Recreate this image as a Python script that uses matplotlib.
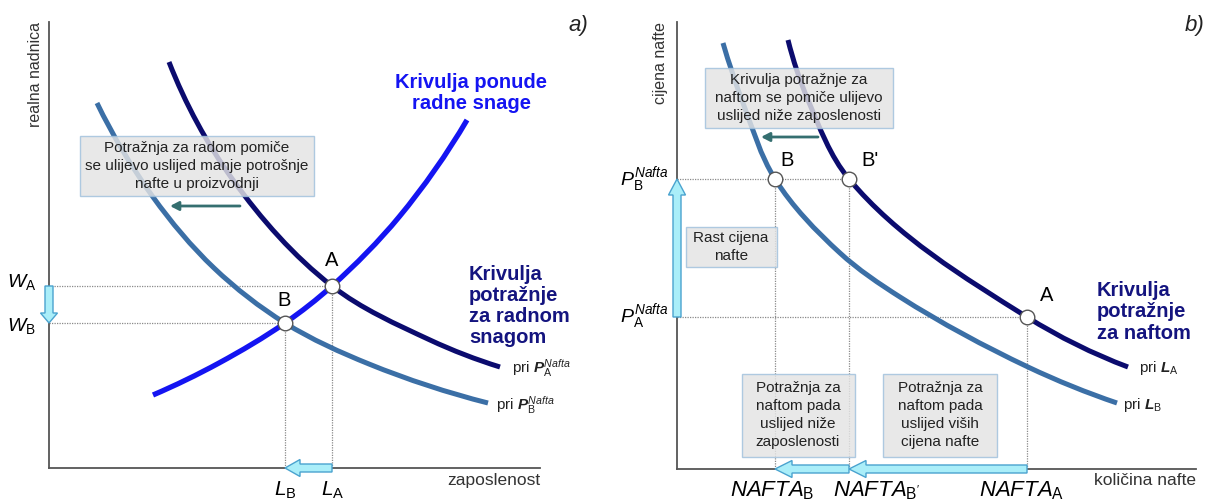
import numpy as np
import matplotlib
matplotlib.use("Agg")
import matplotlib.pyplot as plt
from matplotlib.path import Path
from matplotlib.patches import PathPatch, Rectangle, FancyArrow, FancyArrowPatch
from matplotlib.transforms import Affine2D

plt.rcParams['font.family'] = ['Liberation Sans', 'DejaVu Sans']
plt.rcParams['mathtext.fontset'] = 'custom'
plt.rcParams['mathtext.rm'] = 'Liberation Sans'
plt.rcParams['mathtext.it'] = 'Liberation Sans:italic'
plt.rcParams['mathtext.bf'] = 'Liberation Sans:bold:italic'

# ---------------- data: panel a) labour market ----------------
lab_demA_q = [120, 184, 283, 381, 451]
lab_demA_w = [406, 288, 182, 128, 101]
lab_demB_q = [48, 104, 165, 236, 320, 439]
lab_demB_w = [365, 271, 200, 145, 104, 65]
lab_sup_q = [104, 170, 236, 283, 350, 418]
lab_sup_w = [73, 105, 145, 182, 251, 348]
L_A, W_A = 283, 182
L_B, W_B = 236, 145

# ---------------- data: panel b) oil market ----------------
oil_demA_q = [111, 131, 172, 350, 451]
oil_demA_p = [429, 369, 290, 152, 102]
oil_demB_q = [46, 66, 98, 163, 223, 351, 440]
oil_demB_p = [426, 366, 290, 216, 172, 102, 66]
Q_B, Q_Bp, Q_A = 98, 172, 350
P_B, P_A = 290, 152

NAVY = '#0b0b6e'
STEEL = '#3b6fa6'
BLUE = '#1414f2'
TEAL = '#356f70'
CYAN_F = '#aaeef9'
CYAN_E = '#4aa3cf'
GRID = '#8a8a8a'
AX = '#555555'
BOX_F = '#e4e4e4'
BOX_E = '#9fc0dc'


def _unit(v):
    return v / np.hypot(*v)


def smooth_path(xs, ys):
    """Bezier path through the read points (tangents from neighbours, chord-length handles)."""
    P = np.column_stack([xs, ys]).astype(float)
    n = len(P)
    T = [None] * n
    for i in range(1, n - 1):
        T[i] = _unit(_unit(P[i + 1] - P[i]) + _unit(P[i] - P[i - 1]))
    T[0] = _unit(2 * _unit(P[1] - P[0]) - T[1])
    T[-1] = _unit(2 * _unit(P[-1] - P[-2]) - T[-2])
    verts = [P[0]]
    codes = [Path.MOVETO]
    for i in range(n - 1):
        L = np.hypot(*(P[i + 1] - P[i]))
        verts += [P[i] + T[i] * L / 3, P[i + 1] - T[i + 1] * L / 3, P[i + 1]]
        codes += [Path.CURVE4] * 3
    return Path(verts, codes)


def curve(ax, xs, ys, color, lw):
    ax.add_patch(PathPatch(smooth_path(xs, ys), fill=False, ec=color, lw=lw,
                           capstyle='butt', zorder=3))


W, H = 1212, 503
fig = plt.figure(figsize=(W / 100, H / 100), dpi=100)
px = Affine2D().scale(1 / W, -1 / H).translate(0, 1) + fig.transFigure

axL = fig.add_axes([49 / W, (H - 468) / H, 491 / W, 446 / H])
axL.set_xlim(0, 491)
axL.set_ylim(0, 446)
axR = fig.add_axes([677 / W, (H - 469) / H, 519 / W, 447 / H])
axR.set_xlim(0, 519)
axR.set_ylim(0, 447)

for ax in (axL, axR):
    ax.set_xticks([])
    ax.set_yticks([])
    ax.patch.set_alpha(0)
    for s in ('top', 'right'):
        ax.spines[s].set_visible(False)
    for s in ('left', 'bottom'):
        ax.spines[s].set_color(AX)
        ax.spines[s].set_linewidth(1.3)

dot = dict(color=GRID, lw=0.9, ls=(0, (1, 1)), zorder=2)
mk = dict(marker='o', ms=10.5, mfc='white', mec='#555555', mew=1.0, ls='none', zorder=6)


def tbox(x0, y0, x1, y1, ax):
    ax.add_patch(Rectangle((x0, y0), x1 - x0, y1 - y0, transform=px, fc=BOX_F,
                           ec=BOX_E, lw=1.0, alpha=0.82, zorder=5, clip_on=False))


def T(x, y, s, **kw):
    kw.setdefault('fontsize', 11)
    kw.setdefault('ha', 'center')
    kw.setdefault('va', 'center')
    fig.text(x, y, s, transform=px, **kw)


def cyan_arrow(ax, x, y, dx, dy, hl):
    ax.add_patch(FancyArrow(x, y, dx, dy, width=8, head_width=17, head_length=hl,
                            length_includes_head=True, fc=CYAN_F, ec=CYAN_E,
                            lw=1.0, zorder=7, clip_on=False))


def teal_arrow(ax, x0, x1, y):
    ax.add_patch(FancyArrowPatch((x0, y), (x1, y), transform=px,
                                 arrowstyle='-|>,head_length=5,head_width=2.6',
                                 color=TEAL, lw=2.0, zorder=6, clip_on=False,
                                 shrinkA=0, shrinkB=0))

BOXTXT = dict(linespacing=1.35, color='#222222', zorder=8, fontsize=11)
BOLD = dict(fontsize=14.5, fontweight='bold', linespacing=1.15)

# ---------------- panel a) ----------------
axL.plot([0, L_A], [W_A, W_A], **dot)
axL.plot([0, L_B], [W_B, W_B], **dot)
axL.plot([L_A, L_A], [0, W_A], **dot)
axL.plot([L_B, L_B], [0, W_B], **dot)
curve(axL, lab_demB_q, lab_demB_w, STEEL, 3.6)
curve(axL, lab_demA_q, lab_demA_w, NAVY, 3.6)
curve(axL, lab_sup_q, lab_sup_w, BLUE, 3.8)
axL.plot([L_A, L_B], [W_A, W_B], **mk)
cyan_arrow(axL, 0, W_A, 0, W_B - W_A, 10)
cyan_arrow(axL, L_A, 0, L_B - L_A, 0, 15)

tbox(80, 136, 314, 196, axL)
T(197, 166, 'Potražnja za radom pomiče\nse ulijevo uslijed manje potrošnje\nnafte u proizvodnji', **BOXTXT)
teal_arrow(axL, 240, 170, 206)

T(471, 93, 'Krivulja ponude\nradne snage', color=BLUE, **BOLD)
T(469, 306, 'Krivulja\npotražnje\nza radnom\nsnagom', color='#14147f', ha='left', **BOLD)
T(512, 368, r'pri $\mathbf{P}_{\mathrm{A}}^{\mathit{Nafta}}$', fontsize=11, ha='left', color='#222222')
T(496, 405, r'pri $\mathbf{P}_{\mathrm{B}}^{\mathit{Nafta}}$', fontsize=11, ha='left', color='#222222')
T(332, 261, 'A', fontsize=14.5)
T(284, 301, 'B', fontsize=14.5)
T(36, 282, r'$W_{\mathrm{A}}$', fontsize=14, ha='right')
T(36, 326, r'$W_{\mathrm{B}}$', fontsize=14, ha='right')
T(285, 490, r'$L_{\mathrm{B}}$', fontsize=15)
T(333, 490, r'$L_{\mathrm{A}}$', fontsize=15)
T(36, 22, 'realna nadnica', rotation=90, va='top', fontsize=11.5, color='#333333')
T(540, 481, 'zaposlenost', ha='right', fontsize=12.5, color='#333333')
T(578, 25, 'a)', fontsize=16, style='italic', color='#222222')

# ---------------- panel b) ----------------
axR.plot([0, Q_Bp], [P_B, P_B], **dot)
axR.plot([0, Q_A], [P_A, P_A], **dot)
for q, p in ((Q_B, P_B), (Q_Bp, P_B), (Q_A, P_A)):
    axR.plot([q, q], [0, p], **dot)
curve(axR, oil_demB_q, oil_demB_p, STEEL, 3.6)
curve(axR, oil_demA_q, oil_demA_p, NAVY, 3.6)
axR.plot([Q_B, Q_Bp, Q_A], [P_B, P_B, P_A], **mk)
cyan_arrow(axR, 0, P_A, 0, P_B - P_A, 16)
cyan_arrow(axR, Q_A, 0, Q_Bp - Q_A, 0, 17)
cyan_arrow(axR, Q_Bp, 0, Q_B - Q_Bp, 0, 17)

tbox(705, 68, 893, 128, axR)
T(799, 98, 'Krivulja potražnje za\nnaftom se pomiče ulijevo\nuslijed niže zaposlenosti', **BOXTXT)
teal_arrow(axR, 818, 761, 137)
tbox(686, 227, 777, 267, axR)
T(731, 247, 'Rast cijena\nnafte', **BOXTXT)
tbox(742, 374, 855, 457, axR)
T(798, 415, 'Potražnja za\nnaftom pada\nuslijed niže\nzaposlenosti', **BOXTXT)
tbox(883, 374, 997, 457, axR)
T(940, 415, 'Potražnja za\nnaftom pada\nuslijed viših\ncijena nafte', **BOXTXT)

T(787, 161, 'B', fontsize=14.5)
T(870, 161, "B'", fontsize=14.5)
T(1047, 296, 'A', fontsize=14.5)
T(1097, 312, 'Krivulja\npotražnje\nza naftom', color='#14147f', ha='left', **BOLD)
T(1139, 368, r'pri $\mathbf{L}_{\mathrm{A}}$', fontsize=11, ha='left', color='#222222')
T(1123, 405, r'pri $\mathbf{L}_{\mathrm{B}}$', fontsize=11, ha='left', color='#222222')
T(668, 180, r'$P_{\mathrm{B}}^{Nafta}$', fontsize=14, ha='right')
T(668, 317, r'$P_{\mathrm{A}}^{Nafta}$', fontsize=14, ha='right')
T(772, 491, r'$NAFTA_{\mathrm{B}}$', fontsize=16)
T(877, 491, r"$NAFTA_{\mathrm{B'}}$", fontsize=16)
T(1022, 491, r'$NAFTA_{\mathrm{A}}$', fontsize=16)
T(660, 22, 'cijena nafte', rotation=90, va='top', fontsize=11.5, color='#333333')
T(1196, 481, 'količina nafte', ha='right', fontsize=12.5, color='#333333')
T(1195, 25, 'b)', fontsize=16, style='italic', color='#222222')

fig.savefig('out.png', dpi=100)
